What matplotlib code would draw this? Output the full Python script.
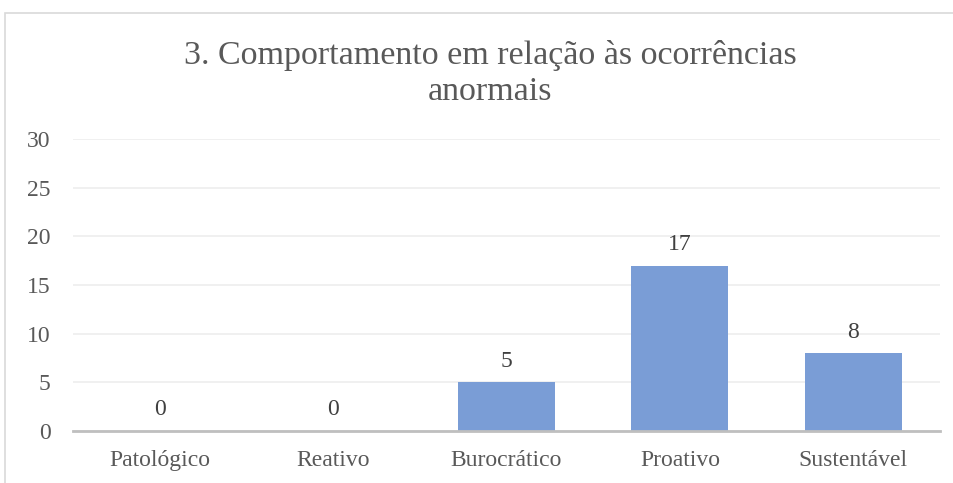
import matplotlib.pyplot as plt
from matplotlib.patches import Rectangle

FONTE = 'Liberation Serif'
plt.rcParams['font.family'] = 'serif'
plt.rcParams['font.serif'] = [FONTE, 'DejaVu Serif']

categorias = ['Patológico', 'Reativo', 'Burocrático', 'Proativo', 'Sustentável']
valores = [0, 0, 5, 17, 8]
yticks = [0, 5, 10, 15, 20, 25, 30]
titulo = ['3. Comportamento em relação às ocorrências', 'anormais']

texto = '#595959'
cor_barra = '#7A9DD6'

fig = plt.figure(figsize=(9.54, 4.83), dpi=100)
fig.patch.set_facecolor('white')

# borda do gráfico (cortada à direita e em baixo)
fig.add_artist(Rectangle((5 / 954, -0.1), 1.2, (483 - 13) / 483 + 0.1,
                         transform=fig.transFigure, fill=False,
                         edgecolor='#D9D9D9', linewidth=1.2))

ax = fig.add_axes([73 / 954, (483 - 431) / 483, 867 / 954, 292 / 483])
x = list(range(len(categorias)))
ax.bar(x, valores, width=0.56, color=cor_barra, zorder=3)

for xi, v in zip(x, valores):
    ax.text(xi, v + 1.6, str(v), ha='center', va='baseline',
            fontsize=17, color='#404040', family=FONTE)

ax.set_xlim(-0.5, len(categorias) - 0.5)
ax.set_ylim(0, 30)
ax.set_yticks(yticks)
ax.set_xticks(x)
ax.set_xticklabels(categorias)
for lab in ax.get_xticklabels() + ax.get_yticklabels():
    lab.set_family(FONTE)
ax.tick_params(axis='both', length=0, labelsize=17, labelcolor=texto)
ax.tick_params(axis='x', pad=14)
ax.tick_params(axis='y', pad=16)
ax.grid(axis='y', color='#EDEDED', linewidth=1.2, zorder=0)
for s in ['top', 'right', 'left']:
    ax.spines[s].set_visible(False)
ax.spines['bottom'].set_color('#BFBFBF')
ax.spines['bottom'].set_linewidth(2)
ax.spines['bottom'].set_zorder(4)

fig.text(490 / 954, 1 - 64 / 483, titulo[0], ha='center', va='baseline',
         fontsize=24.5, color=texto, family=FONTE)
fig.text(490 / 954, 1 - 100 / 483, titulo[1], ha='center', va='baseline',
         fontsize=24.5, color=texto, family=FONTE)

fig.savefig('out.png', dpi=100)
